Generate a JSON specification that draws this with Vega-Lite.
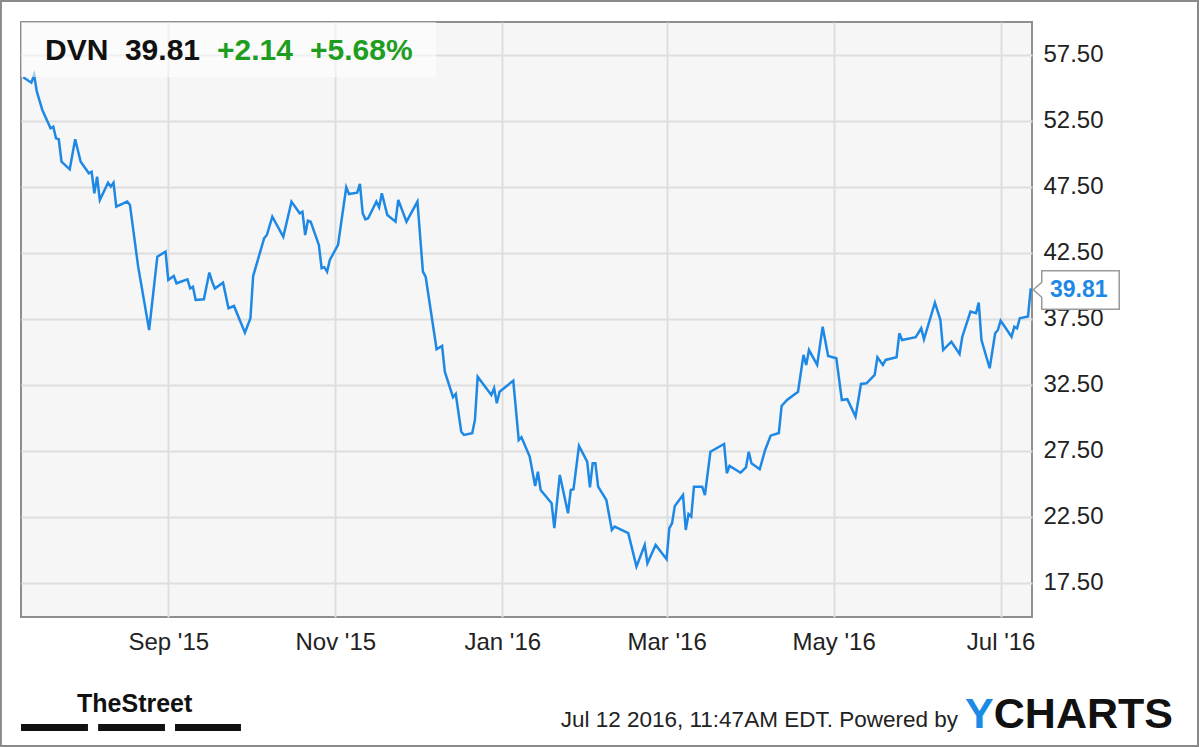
{
  "$schema": "https://vega.github.io/schema/vega-lite/v6.json",
  "width": 1011,
  "height": 595,
  "autosize": {"type": "none"},
  "padding": {"left": 21, "top": 22, "right": 168, "bottom": 130},
  "background": "white",
  "config": {
    "view": {"fill": "#f6f6f6", "stroke": "#8f8f8f", "strokeWidth": 2},
    "font": "Liberation Sans"
  },
  "datasets": {
    "prices": [
      {"date": "2015-07-10", "close": 55.81},
      {"date": "2015-07-13", "close": 55.40},
      {"date": "2015-07-14", "close": 55.98},
      {"date": "2015-07-15", "close": 54.72},
      {"date": "2015-07-17", "close": 53.33},
      {"date": "2015-07-20", "close": 51.94},
      {"date": "2015-07-21", "close": 52.06},
      {"date": "2015-07-22", "close": 51.18},
      {"date": "2015-07-23", "close": 51.11},
      {"date": "2015-07-24", "close": 49.41},
      {"date": "2015-07-27", "close": 48.83},
      {"date": "2015-07-29", "close": 51.11},
      {"date": "2015-07-31", "close": 49.41},
      {"date": "2015-08-03", "close": 48.53},
      {"date": "2015-08-04", "close": 48.65},
      {"date": "2015-08-05", "close": 47.01},
      {"date": "2015-08-06", "close": 48.27},
      {"date": "2015-08-07", "close": 46.51},
      {"date": "2015-08-10", "close": 47.82},
      {"date": "2015-08-11", "close": 47.52},
      {"date": "2015-08-12", "close": 47.82},
      {"date": "2015-08-13", "close": 46.00},
      {"date": "2015-08-17", "close": 46.38},
      {"date": "2015-08-18", "close": 46.13},
      {"date": "2015-08-21", "close": 41.45},
      {"date": "2015-08-25", "close": 36.65},
      {"date": "2015-08-28", "close": 42.21},
      {"date": "2015-08-31", "close": 42.59},
      {"date": "2015-09-01", "close": 40.44},
      {"date": "2015-09-03", "close": 40.74},
      {"date": "2015-09-04", "close": 40.19},
      {"date": "2015-09-08", "close": 40.49},
      {"date": "2015-09-09", "close": 39.80},
      {"date": "2015-09-10", "close": 39.93},
      {"date": "2015-09-11", "close": 38.93},
      {"date": "2015-09-14", "close": 38.98},
      {"date": "2015-09-16", "close": 41.00},
      {"date": "2015-09-17", "close": 40.31},
      {"date": "2015-09-18", "close": 39.79},
      {"date": "2015-09-21", "close": 40.24},
      {"date": "2015-09-23", "close": 38.30},
      {"date": "2015-09-25", "close": 38.47},
      {"date": "2015-09-29", "close": 36.45},
      {"date": "2015-10-01", "close": 37.54},
      {"date": "2015-10-02", "close": 40.74},
      {"date": "2015-10-06", "close": 43.60},
      {"date": "2015-10-07", "close": 43.85},
      {"date": "2015-10-09", "close": 45.24},
      {"date": "2015-10-13", "close": 43.72},
      {"date": "2015-10-16", "close": 46.38},
      {"date": "2015-10-19", "close": 45.50},
      {"date": "2015-10-20", "close": 45.62},
      {"date": "2015-10-21", "close": 43.85},
      {"date": "2015-10-22", "close": 44.94},
      {"date": "2015-10-23", "close": 44.86},
      {"date": "2015-10-26", "close": 43.10},
      {"date": "2015-10-27", "close": 41.33},
      {"date": "2015-10-28", "close": 41.41},
      {"date": "2015-10-29", "close": 41.07},
      {"date": "2015-10-30", "close": 41.96},
      {"date": "2015-11-02", "close": 43.10},
      {"date": "2015-11-05", "close": 47.47},
      {"date": "2015-11-06", "close": 46.96},
      {"date": "2015-11-09", "close": 47.06},
      {"date": "2015-11-10", "close": 47.72},
      {"date": "2015-11-11", "close": 45.50},
      {"date": "2015-11-12", "close": 45.04},
      {"date": "2015-11-13", "close": 45.12},
      {"date": "2015-11-16", "close": 46.38},
      {"date": "2015-11-17", "close": 45.95},
      {"date": "2015-11-18", "close": 47.01},
      {"date": "2015-11-20", "close": 45.37},
      {"date": "2015-11-23", "close": 44.86},
      {"date": "2015-11-24", "close": 46.51},
      {"date": "2015-11-27", "close": 44.86},
      {"date": "2015-12-01", "close": 46.38},
      {"date": "2015-12-03", "close": 41.07},
      {"date": "2015-12-04", "close": 40.69},
      {"date": "2015-12-08", "close": 35.19},
      {"date": "2015-12-10", "close": 35.44},
      {"date": "2015-12-11", "close": 33.49},
      {"date": "2015-12-14", "close": 31.55},
      {"date": "2015-12-15", "close": 31.80},
      {"date": "2015-12-17", "close": 28.94},
      {"date": "2015-12-18", "close": 28.69},
      {"date": "2015-12-21", "close": 28.82},
      {"date": "2015-12-22", "close": 29.83},
      {"date": "2015-12-23", "close": 33.11},
      {"date": "2015-12-28", "close": 31.72},
      {"date": "2015-12-29", "close": 32.23},
      {"date": "2015-12-30", "close": 31.09},
      {"date": "2015-12-31", "close": 31.97},
      {"date": "2016-01-05", "close": 32.81},
      {"date": "2016-01-07", "close": 28.30},
      {"date": "2016-01-08", "close": 28.52},
      {"date": "2016-01-11", "close": 27.05},
      {"date": "2016-01-13", "close": 24.82},
      {"date": "2016-01-14", "close": 25.91},
      {"date": "2016-01-15", "close": 24.52},
      {"date": "2016-01-19", "close": 23.51},
      {"date": "2016-01-20", "close": 21.62},
      {"date": "2016-01-22", "close": 25.66},
      {"date": "2016-01-25", "close": 22.75},
      {"date": "2016-01-26", "close": 24.52},
      {"date": "2016-01-27", "close": 24.57},
      {"date": "2016-01-29", "close": 27.86},
      {"date": "2016-02-01", "close": 26.67},
      {"date": "2016-02-02", "close": 24.72},
      {"date": "2016-02-03", "close": 26.54},
      {"date": "2016-02-04", "close": 26.54},
      {"date": "2016-02-05", "close": 24.77},
      {"date": "2016-02-08", "close": 23.76},
      {"date": "2016-02-10", "close": 21.49},
      {"date": "2016-02-11", "close": 21.74},
      {"date": "2016-02-16", "close": 21.24},
      {"date": "2016-02-19", "close": 18.71},
      {"date": "2016-02-22", "close": 20.35},
      {"date": "2016-02-23", "close": 18.96},
      {"date": "2016-02-26", "close": 20.35},
      {"date": "2016-03-01", "close": 19.27},
      {"date": "2016-03-02", "close": 21.62},
      {"date": "2016-03-03", "close": 22.00},
      {"date": "2016-03-04", "close": 23.31},
      {"date": "2016-03-07", "close": 24.14},
      {"date": "2016-03-08", "close": 21.49},
      {"date": "2016-03-09", "close": 22.70},
      {"date": "2016-03-10", "close": 22.50},
      {"date": "2016-03-11", "close": 24.77},
      {"date": "2016-03-14", "close": 24.77},
      {"date": "2016-03-15", "close": 24.14},
      {"date": "2016-03-17", "close": 27.42},
      {"date": "2016-03-22", "close": 28.01},
      {"date": "2016-03-23", "close": 25.79},
      {"date": "2016-03-24", "close": 26.34},
      {"date": "2016-03-28", "close": 25.83},
      {"date": "2016-03-30", "close": 26.24},
      {"date": "2016-03-31", "close": 27.42},
      {"date": "2016-04-01", "close": 26.54},
      {"date": "2016-04-04", "close": 26.09},
      {"date": "2016-04-06", "close": 27.55},
      {"date": "2016-04-08", "close": 28.64},
      {"date": "2016-04-11", "close": 28.84},
      {"date": "2016-04-12", "close": 30.89},
      {"date": "2016-04-14", "close": 31.34},
      {"date": "2016-04-18", "close": 31.97},
      {"date": "2016-04-20", "close": 34.76},
      {"date": "2016-04-21", "close": 34.00},
      {"date": "2016-04-22", "close": 35.13},
      {"date": "2016-04-25", "close": 34.00},
      {"date": "2016-04-27", "close": 36.90},
      {"date": "2016-04-29", "close": 34.68},
      {"date": "2016-05-02", "close": 34.51},
      {"date": "2016-05-04", "close": 31.34},
      {"date": "2016-05-06", "close": 31.40},
      {"date": "2016-05-09", "close": 30.08},
      {"date": "2016-05-11", "close": 32.56},
      {"date": "2016-05-13", "close": 32.61},
      {"date": "2016-05-16", "close": 33.24},
      {"date": "2016-05-17", "close": 34.58},
      {"date": "2016-05-19", "close": 34.00},
      {"date": "2016-05-20", "close": 34.38},
      {"date": "2016-05-24", "close": 34.58},
      {"date": "2016-05-25", "close": 36.40},
      {"date": "2016-05-26", "close": 35.89},
      {"date": "2016-05-31", "close": 36.10},
      {"date": "2016-06-02", "close": 36.78},
      {"date": "2016-06-03", "close": 35.94},
      {"date": "2016-06-07", "close": 38.72},
      {"date": "2016-06-09", "close": 37.41},
      {"date": "2016-06-10", "close": 35.13},
      {"date": "2016-06-13", "close": 35.76},
      {"date": "2016-06-16", "close": 34.83},
      {"date": "2016-06-17", "close": 36.14},
      {"date": "2016-06-20", "close": 38.04},
      {"date": "2016-06-22", "close": 37.92},
      {"date": "2016-06-23", "close": 38.72},
      {"date": "2016-06-24", "close": 35.89},
      {"date": "2016-06-27", "close": 33.75},
      {"date": "2016-06-29", "close": 36.40},
      {"date": "2016-06-30", "close": 36.65},
      {"date": "2016-07-01", "close": 37.36},
      {"date": "2016-07-05", "close": 36.14},
      {"date": "2016-07-06", "close": 36.90},
      {"date": "2016-07-07", "close": 36.78},
      {"date": "2016-07-08", "close": 37.54},
      {"date": "2016-07-11", "close": 37.67},
      {"date": "2016-07-12", "close": 39.81}
    ],
    "latest": [{"date": "2016-07-12", "close": 39.81}],
    "one": [{}]
  },
  "layer": [
    {
      "data": {"name": "prices"},
      "mark": {"type": "line", "color": "#1e88e5", "strokeWidth": 2.5},
      "encoding": {
        "x": {
          "field": "date", "type": "temporal",
          "scale": {"type": "utc", "domain": [{"year": 2015, "month": 7, "date": 9, "hours": 5, "utc": true}, {"year": 2016, "month": 7, "date": 12, "hours": 11, "utc": true}]},
          "axis": {
            "title": null, "format": "%b '%y", "domain": false, "ticks": false,
            "labelFontSize": 24, "labelColor": "#222", "labelPadding": 13, "labelFlush": false, "labelOverlap": false,
            "grid": true, "gridColor": "#dedede", "gridWidth": 2,
            "values": [
              {"year": 2015, "month": 9, "date": 1, "utc": true},
              {"year": 2015, "month": 11, "date": 1, "utc": true},
              {"year": 2016, "month": 1, "date": 1, "utc": true},
              {"year": 2016, "month": 3, "date": 1, "utc": true},
              {"year": 2016, "month": 5, "date": 1, "utc": true},
              {"year": 2016, "month": 7, "date": 1, "utc": true}
            ]
          }
        },
        "y": {
          "field": "close", "type": "quantitative",
          "scale": {"domain": [14.89, 60.0], "nice": false, "zero": false},
          "axis": {
            "orient": "right", "title": null, "format": ".2f", "domain": false, "ticks": false,
            "labelFontSize": 24, "labelColor": "#222", "labelPadding": 11, "labelFlush": false,
            "grid": true, "gridColor": "#dedede", "gridWidth": 2,
            "values": [17.5, 22.5, 27.5, 32.5, 37.5, 42.5, 47.5, 52.5, 57.5]
          }
        }
      }
    },
    {
      "data": {"name": "one"},
      "mark": {"type": "rect", "fill": "white", "opacity": 0.55},
      "encoding": {
        "x": {"datum": {"year": 2015, "month": 7, "date": 9, "hours": 5, "utc": true}, "type": "temporal"},
        "x2": {"datum": {"year": 2015, "month": 12, "date": 7, "hours": 19, "utc": true}},
        "y": {"datum": 60.0, "type": "quantitative"},
        "y2": {"datum": 55.83}
      }
    },
    {
      "data": {"name": "latest"},
      "mark": {"type": "point", "shape": "M 2.5 1.5 L 11 -6 L 11 -17.5 L 88.5 -17.5 L 88.5 21 L 11 21 L 11 9 Z", "size": 4, "filled": true, "fill": "white", "stroke": "#9a9a9a", "strokeWidth": 1.5, "opacity": 1},
      "encoding": {
        "x": {"field": "date", "type": "temporal"},
        "y": {"field": "close", "type": "quantitative"}
      }
    },
    {
      "data": {"name": "latest"},
      "mark": {"type": "text", "align": "center", "baseline": "middle", "dx": 48, "dy": 2, "fontSize": 23, "fontWeight": "bold", "color": "#1e88e5"},
      "encoding": {
        "x": {"field": "date", "type": "temporal"},
        "y": {"field": "close", "type": "quantitative"},
        "text": {"field": "close", "type": "quantitative", "format": ".2f"}
      }
    },
    {
      "data": {"name": "one"},
      "mark": {"type": "text", "text": "DVN", "align": "left", "baseline": "alphabetic", "fontSize": 30, "fontWeight": "bold", "color": "#111"},
      "encoding": {
        "x": {"datum": {"year": 2015, "month": 7, "date": 18, "utc": true}, "type": "temporal"},
        "y": {"datum": 57.12, "type": "quantitative"}
      }
    },
    {
      "data": {"name": "one"},
      "mark": {"type": "text", "text": "39.81", "align": "left", "baseline": "alphabetic", "fontSize": 30, "fontWeight": "bold", "color": "#111"},
      "encoding": {
        "x": {"datum": {"year": 2015, "month": 8, "date": 16, "hours": 4, "utc": true}, "type": "temporal"},
        "y": {"datum": 57.12, "type": "quantitative"}
      }
    },
    {
      "data": {"name": "one"},
      "mark": {"type": "text", "text": "+2.14", "align": "left", "baseline": "alphabetic", "fontSize": 30, "fontWeight": "bold", "color": "#1f9d1f"},
      "encoding": {
        "x": {"datum": {"year": 2015, "month": 9, "date": 18, "hours": 19, "utc": true}, "type": "temporal"},
        "y": {"datum": 57.12, "type": "quantitative"}
      }
    },
    {
      "data": {"name": "one"},
      "mark": {"type": "text", "text": "+5.68%", "align": "left", "baseline": "alphabetic", "fontSize": 30, "fontWeight": "bold", "color": "#1f9d1f"},
      "encoding": {
        "x": {"datum": {"year": 2015, "month": 10, "date": 22, "hours": 18, "utc": true}, "type": "temporal"},
        "y": {"datum": 57.12, "type": "quantitative"}
      }
    },
    {
      "data": {"name": "one"},
      "mark": {"type": "text", "text": "Jul 12 2016, 11:47AM EDT.  Powered by", "align": "right", "baseline": "alphabetic", "fontSize": 22.5, "color": "#222"},
      "encoding": {
        "x": {"datum": {"year": 2016, "month": 6, "date": 15, "hours": 10, "utc": true}, "type": "temporal"},
        "y": {"datum": 6.55, "type": "quantitative"}
      }
    },
    {
      "data": {"name": "one"},
      "mark": {"type": "text", "text": "Y", "align": "left", "baseline": "alphabetic", "fontSize": 43, "fontWeight": "bold", "color": "#1b8be6"},
      "encoding": {
        "x": {"datum": {"year": 2016, "month": 6, "date": 18, "utc": true}, "type": "temporal"},
        "y": {"datum": 6.47, "type": "quantitative"}
      }
    },
    {
      "data": {"name": "one"},
      "mark": {"type": "text", "text": "CHARTS", "align": "left", "baseline": "alphabetic", "fontSize": 43, "fontWeight": "bold", "color": "#111"},
      "encoding": {
        "x": {"datum": {"year": 2016, "month": 6, "date": 28, "hours": 12, "utc": true}, "type": "temporal"},
        "y": {"datum": 6.47, "type": "quantitative"}
      }
    },
    {
      "data": {"name": "one"},
      "mark": {"type": "text", "text": "TheStreet", "align": "left", "baseline": "alphabetic", "fontSize": 25, "fontWeight": "bold", "color": "#111"},
      "encoding": {
        "x": {"datum": {"year": 2015, "month": 7, "date": 29, "hours": 16, "utc": true}, "type": "temporal"},
        "y": {"datum": 7.69, "type": "quantitative"}
      }
    },
    {
      "data": {"name": "one"},
      "mark": {"type": "rect", "color": "#111"},
      "encoding": {
        "x": {"datum": {"year": 2015, "month": 7, "date": 9, "hours": 5, "utc": true}, "type": "temporal"},
        "x2": {"datum": {"year": 2015, "month": 8, "date": 2, "hours": 16, "utc": true}},
        "y": {"datum": 6.78, "type": "quantitative"},
        "y2": {"datum": 6.25}
      }
    },
    {
      "data": {"name": "one"},
      "mark": {"type": "rect", "color": "#111"},
      "encoding": {
        "x": {"datum": {"year": 2015, "month": 8, "date": 6, "hours": 9, "utc": true}, "type": "temporal"},
        "x2": {"datum": {"year": 2015, "month": 8, "date": 30, "hours": 19, "utc": true}},
        "y": {"datum": 6.78, "type": "quantitative"},
        "y2": {"datum": 6.25}
      }
    },
    {
      "data": {"name": "one"},
      "mark": {"type": "rect", "color": "#111"},
      "encoding": {
        "x": {"datum": {"year": 2015, "month": 9, "date": 3, "hours": 11, "utc": true}, "type": "temporal"},
        "x2": {"datum": {"year": 2015, "month": 9, "date": 27, "hours": 13, "utc": true}},
        "y": {"datum": 6.78, "type": "quantitative"},
        "y2": {"datum": 6.25}
      }
    },
    {
      "data": {"name": "one"},
      "mark": {"type": "rect", "fillOpacity": 0, "stroke": "#8a8a8a", "strokeWidth": 2},
      "encoding": {
        "x": {"datum": {"year": 2015, "month": 7, "date": 1, "hours": 21, "utc": true}, "type": "temporal"},
        "x2": {"datum": {"year": 2016, "month": 9, "date": 11, "hours": 2, "utc": true}},
        "y": {"datum": 61.59, "type": "quantitative"},
        "y2": {"datum": 5.11}
      }
    }
  ]
}
